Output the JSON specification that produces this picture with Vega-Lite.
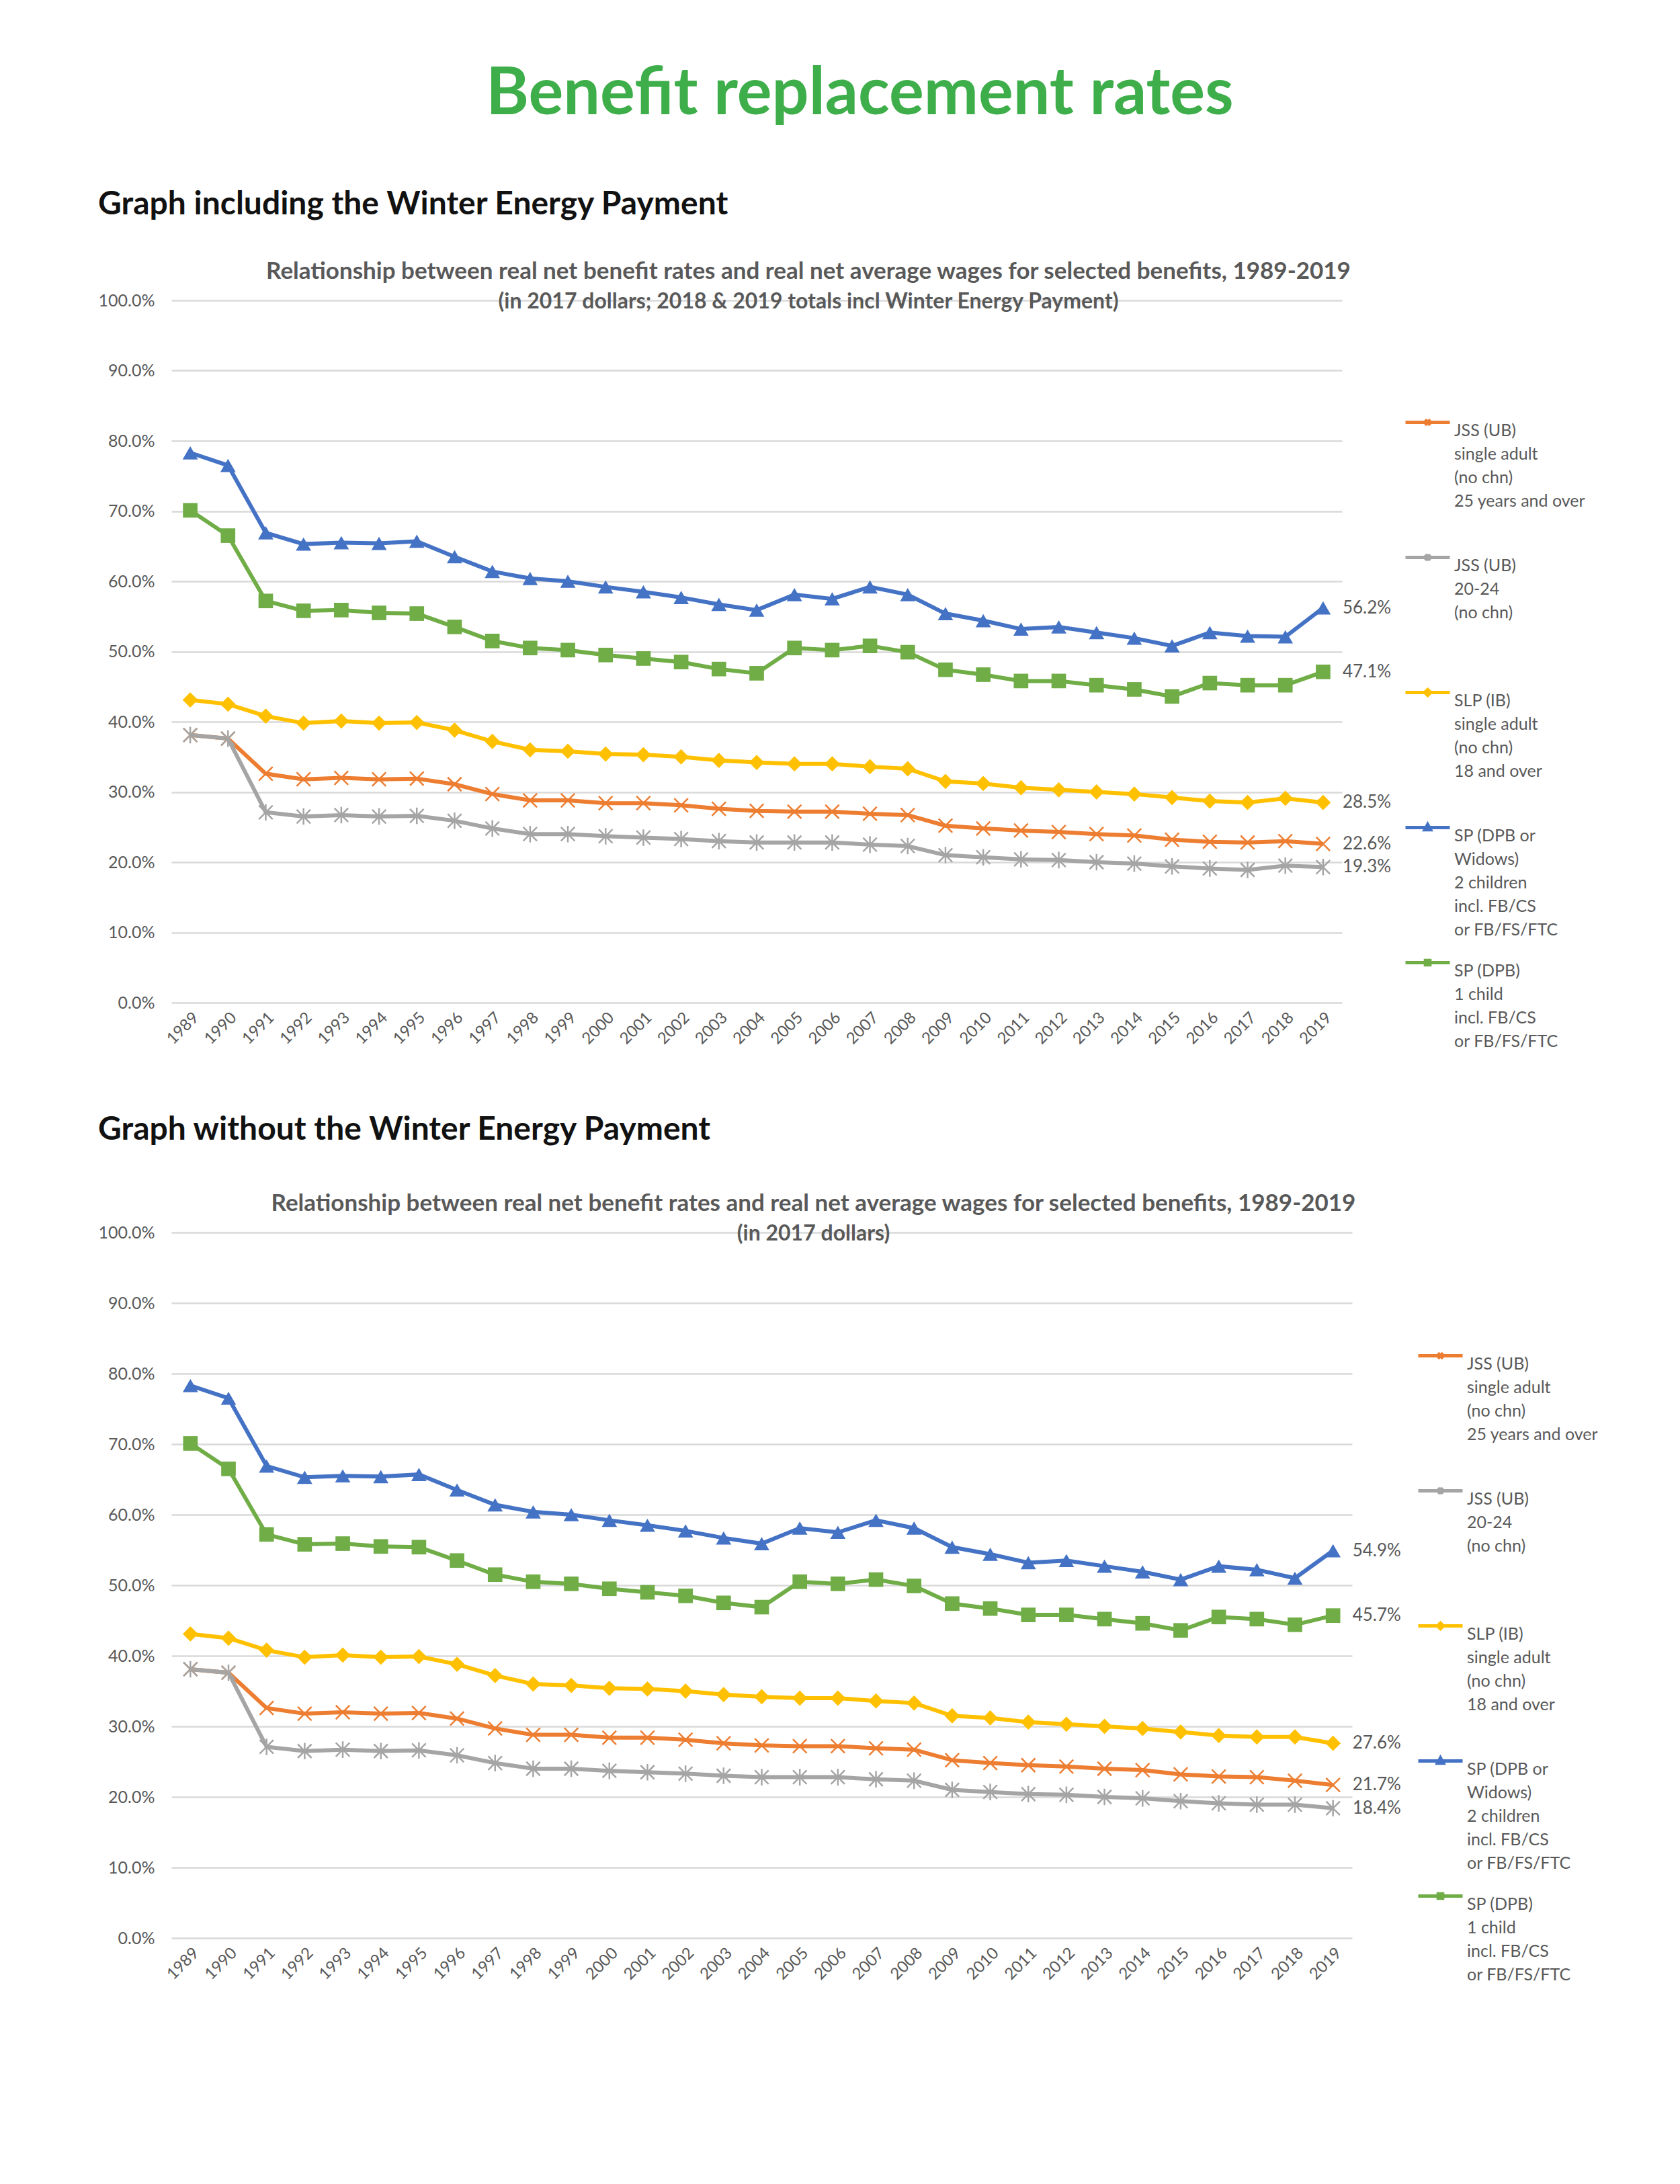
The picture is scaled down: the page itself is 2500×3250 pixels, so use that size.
{
  "$schema": "https://vega.github.io/schema/vega-lite/v6.json",
  "background": "white",
  "padding": {"left": 146, "top": 92, "right": 10, "bottom": 10},
  "title": {
    "text": "Benefit replacement rates",
    "font": "Lato",
    "fontSize": 97,
    "fontWeight": "bold",
    "color": "#3DAE49",
    "anchor": "middle",
    "dx": 17,
    "offset": 91
  },
  "data": {
    "values": [
      {"chart": "with", "series": "JSS25", "year": 1989, "value": 38.1},
      {"chart": "with", "series": "JSS25", "year": 1990, "value": 37.6},
      {"chart": "with", "series": "JSS25", "year": 1991, "value": 32.6},
      {"chart": "with", "series": "JSS25", "year": 1992, "value": 31.8},
      {"chart": "with", "series": "JSS25", "year": 1993, "value": 32.0},
      {"chart": "with", "series": "JSS25", "year": 1994, "value": 31.8},
      {"chart": "with", "series": "JSS25", "year": 1995, "value": 31.9},
      {"chart": "with", "series": "JSS25", "year": 1996, "value": 31.1},
      {"chart": "with", "series": "JSS25", "year": 1997, "value": 29.7},
      {"chart": "with", "series": "JSS25", "year": 1998, "value": 28.8},
      {"chart": "with", "series": "JSS25", "year": 1999, "value": 28.8},
      {"chart": "with", "series": "JSS25", "year": 2000, "value": 28.4},
      {"chart": "with", "series": "JSS25", "year": 2001, "value": 28.4},
      {"chart": "with", "series": "JSS25", "year": 2002, "value": 28.1},
      {"chart": "with", "series": "JSS25", "year": 2003, "value": 27.6},
      {"chart": "with", "series": "JSS25", "year": 2004, "value": 27.3},
      {"chart": "with", "series": "JSS25", "year": 2005, "value": 27.2},
      {"chart": "with", "series": "JSS25", "year": 2006, "value": 27.2},
      {"chart": "with", "series": "JSS25", "year": 2007, "value": 26.9},
      {"chart": "with", "series": "JSS25", "year": 2008, "value": 26.7},
      {"chart": "with", "series": "JSS25", "year": 2009, "value": 25.2},
      {"chart": "with", "series": "JSS25", "year": 2010, "value": 24.8},
      {"chart": "with", "series": "JSS25", "year": 2011, "value": 24.5},
      {"chart": "with", "series": "JSS25", "year": 2012, "value": 24.3},
      {"chart": "with", "series": "JSS25", "year": 2013, "value": 24.0},
      {"chart": "with", "series": "JSS25", "year": 2014, "value": 23.8},
      {"chart": "with", "series": "JSS25", "year": 2015, "value": 23.2},
      {"chart": "with", "series": "JSS25", "year": 2016, "value": 22.9},
      {"chart": "with", "series": "JSS25", "year": 2017, "value": 22.8},
      {"chart": "with", "series": "JSS25", "year": 2018, "value": 23.0},
      {"chart": "with", "series": "JSS25", "year": 2019, "value": 22.6},
      {"chart": "with", "series": "JSS2024", "year": 1989, "value": 38.1},
      {"chart": "with", "series": "JSS2024", "year": 1990, "value": 37.6},
      {"chart": "with", "series": "JSS2024", "year": 1991, "value": 27.1},
      {"chart": "with", "series": "JSS2024", "year": 1992, "value": 26.5},
      {"chart": "with", "series": "JSS2024", "year": 1993, "value": 26.7},
      {"chart": "with", "series": "JSS2024", "year": 1994, "value": 26.5},
      {"chart": "with", "series": "JSS2024", "year": 1995, "value": 26.6},
      {"chart": "with", "series": "JSS2024", "year": 1996, "value": 25.9},
      {"chart": "with", "series": "JSS2024", "year": 1997, "value": 24.8},
      {"chart": "with", "series": "JSS2024", "year": 1998, "value": 24.0},
      {"chart": "with", "series": "JSS2024", "year": 1999, "value": 24.0},
      {"chart": "with", "series": "JSS2024", "year": 2000, "value": 23.7},
      {"chart": "with", "series": "JSS2024", "year": 2001, "value": 23.5},
      {"chart": "with", "series": "JSS2024", "year": 2002, "value": 23.3},
      {"chart": "with", "series": "JSS2024", "year": 2003, "value": 23.0},
      {"chart": "with", "series": "JSS2024", "year": 2004, "value": 22.8},
      {"chart": "with", "series": "JSS2024", "year": 2005, "value": 22.8},
      {"chart": "with", "series": "JSS2024", "year": 2006, "value": 22.8},
      {"chart": "with", "series": "JSS2024", "year": 2007, "value": 22.5},
      {"chart": "with", "series": "JSS2024", "year": 2008, "value": 22.3},
      {"chart": "with", "series": "JSS2024", "year": 2009, "value": 21.0},
      {"chart": "with", "series": "JSS2024", "year": 2010, "value": 20.7},
      {"chart": "with", "series": "JSS2024", "year": 2011, "value": 20.4},
      {"chart": "with", "series": "JSS2024", "year": 2012, "value": 20.3},
      {"chart": "with", "series": "JSS2024", "year": 2013, "value": 20.0},
      {"chart": "with", "series": "JSS2024", "year": 2014, "value": 19.8},
      {"chart": "with", "series": "JSS2024", "year": 2015, "value": 19.4},
      {"chart": "with", "series": "JSS2024", "year": 2016, "value": 19.1},
      {"chart": "with", "series": "JSS2024", "year": 2017, "value": 18.9},
      {"chart": "with", "series": "JSS2024", "year": 2018, "value": 19.5},
      {"chart": "with", "series": "JSS2024", "year": 2019, "value": 19.3},
      {"chart": "with", "series": "SLP", "year": 1989, "value": 43.1},
      {"chart": "with", "series": "SLP", "year": 1990, "value": 42.5},
      {"chart": "with", "series": "SLP", "year": 1991, "value": 40.8},
      {"chart": "with", "series": "SLP", "year": 1992, "value": 39.8},
      {"chart": "with", "series": "SLP", "year": 1993, "value": 40.1},
      {"chart": "with", "series": "SLP", "year": 1994, "value": 39.8},
      {"chart": "with", "series": "SLP", "year": 1995, "value": 39.9},
      {"chart": "with", "series": "SLP", "year": 1996, "value": 38.8},
      {"chart": "with", "series": "SLP", "year": 1997, "value": 37.2},
      {"chart": "with", "series": "SLP", "year": 1998, "value": 36.0},
      {"chart": "with", "series": "SLP", "year": 1999, "value": 35.8},
      {"chart": "with", "series": "SLP", "year": 2000, "value": 35.4},
      {"chart": "with", "series": "SLP", "year": 2001, "value": 35.3},
      {"chart": "with", "series": "SLP", "year": 2002, "value": 35.0},
      {"chart": "with", "series": "SLP", "year": 2003, "value": 34.5},
      {"chart": "with", "series": "SLP", "year": 2004, "value": 34.2},
      {"chart": "with", "series": "SLP", "year": 2005, "value": 34.0},
      {"chart": "with", "series": "SLP", "year": 2006, "value": 34.0},
      {"chart": "with", "series": "SLP", "year": 2007, "value": 33.6},
      {"chart": "with", "series": "SLP", "year": 2008, "value": 33.3},
      {"chart": "with", "series": "SLP", "year": 2009, "value": 31.5},
      {"chart": "with", "series": "SLP", "year": 2010, "value": 31.2},
      {"chart": "with", "series": "SLP", "year": 2011, "value": 30.6},
      {"chart": "with", "series": "SLP", "year": 2012, "value": 30.3},
      {"chart": "with", "series": "SLP", "year": 2013, "value": 30.0},
      {"chart": "with", "series": "SLP", "year": 2014, "value": 29.7},
      {"chart": "with", "series": "SLP", "year": 2015, "value": 29.2},
      {"chart": "with", "series": "SLP", "year": 2016, "value": 28.7},
      {"chart": "with", "series": "SLP", "year": 2017, "value": 28.5},
      {"chart": "with", "series": "SLP", "year": 2018, "value": 29.1},
      {"chart": "with", "series": "SLP", "year": 2019, "value": 28.5},
      {"chart": "with", "series": "SPW", "year": 1989, "value": 78.3},
      {"chart": "with", "series": "SPW", "year": 1990, "value": 76.5},
      {"chart": "with", "series": "SPW", "year": 1991, "value": 66.9},
      {"chart": "with", "series": "SPW", "year": 1992, "value": 65.3},
      {"chart": "with", "series": "SPW", "year": 1993, "value": 65.5},
      {"chart": "with", "series": "SPW", "year": 1994, "value": 65.4},
      {"chart": "with", "series": "SPW", "year": 1995, "value": 65.7},
      {"chart": "with", "series": "SPW", "year": 1996, "value": 63.5},
      {"chart": "with", "series": "SPW", "year": 1997, "value": 61.4},
      {"chart": "with", "series": "SPW", "year": 1998, "value": 60.4},
      {"chart": "with", "series": "SPW", "year": 1999, "value": 60.0},
      {"chart": "with", "series": "SPW", "year": 2000, "value": 59.2},
      {"chart": "with", "series": "SPW", "year": 2001, "value": 58.5},
      {"chart": "with", "series": "SPW", "year": 2002, "value": 57.7},
      {"chart": "with", "series": "SPW", "year": 2003, "value": 56.7},
      {"chart": "with", "series": "SPW", "year": 2004, "value": 55.9},
      {"chart": "with", "series": "SPW", "year": 2005, "value": 58.1},
      {"chart": "with", "series": "SPW", "year": 2006, "value": 57.5},
      {"chart": "with", "series": "SPW", "year": 2007, "value": 59.2},
      {"chart": "with", "series": "SPW", "year": 2008, "value": 58.1},
      {"chart": "with", "series": "SPW", "year": 2009, "value": 55.4},
      {"chart": "with", "series": "SPW", "year": 2010, "value": 54.4},
      {"chart": "with", "series": "SPW", "year": 2011, "value": 53.2},
      {"chart": "with", "series": "SPW", "year": 2012, "value": 53.5},
      {"chart": "with", "series": "SPW", "year": 2013, "value": 52.7},
      {"chart": "with", "series": "SPW", "year": 2014, "value": 51.9},
      {"chart": "with", "series": "SPW", "year": 2015, "value": 50.8},
      {"chart": "with", "series": "SPW", "year": 2016, "value": 52.7},
      {"chart": "with", "series": "SPW", "year": 2017, "value": 52.2},
      {"chart": "with", "series": "SPW", "year": 2018, "value": 52.1},
      {"chart": "with", "series": "SPW", "year": 2019, "value": 56.2},
      {"chart": "with", "series": "SP1", "year": 1989, "value": 70.1},
      {"chart": "with", "series": "SP1", "year": 1990, "value": 66.5},
      {"chart": "with", "series": "SP1", "year": 1991, "value": 57.2},
      {"chart": "with", "series": "SP1", "year": 1992, "value": 55.8},
      {"chart": "with", "series": "SP1", "year": 1993, "value": 55.9},
      {"chart": "with", "series": "SP1", "year": 1994, "value": 55.5},
      {"chart": "with", "series": "SP1", "year": 1995, "value": 55.4},
      {"chart": "with", "series": "SP1", "year": 1996, "value": 53.5},
      {"chart": "with", "series": "SP1", "year": 1997, "value": 51.5},
      {"chart": "with", "series": "SP1", "year": 1998, "value": 50.5},
      {"chart": "with", "series": "SP1", "year": 1999, "value": 50.2},
      {"chart": "with", "series": "SP1", "year": 2000, "value": 49.5},
      {"chart": "with", "series": "SP1", "year": 2001, "value": 49.0},
      {"chart": "with", "series": "SP1", "year": 2002, "value": 48.5},
      {"chart": "with", "series": "SP1", "year": 2003, "value": 47.5},
      {"chart": "with", "series": "SP1", "year": 2004, "value": 46.9},
      {"chart": "with", "series": "SP1", "year": 2005, "value": 50.5},
      {"chart": "with", "series": "SP1", "year": 2006, "value": 50.2},
      {"chart": "with", "series": "SP1", "year": 2007, "value": 50.8},
      {"chart": "with", "series": "SP1", "year": 2008, "value": 49.9},
      {"chart": "with", "series": "SP1", "year": 2009, "value": 47.4},
      {"chart": "with", "series": "SP1", "year": 2010, "value": 46.7},
      {"chart": "with", "series": "SP1", "year": 2011, "value": 45.8},
      {"chart": "with", "series": "SP1", "year": 2012, "value": 45.8},
      {"chart": "with", "series": "SP1", "year": 2013, "value": 45.2},
      {"chart": "with", "series": "SP1", "year": 2014, "value": 44.6},
      {"chart": "with", "series": "SP1", "year": 2015, "value": 43.6},
      {"chart": "with", "series": "SP1", "year": 2016, "value": 45.5},
      {"chart": "with", "series": "SP1", "year": 2017, "value": 45.2},
      {"chart": "with", "series": "SP1", "year": 2018, "value": 45.2},
      {"chart": "with", "series": "SP1", "year": 2019, "value": 47.1},
      {"chart": "without", "series": "JSS25", "year": 1989, "value": 38.1},
      {"chart": "without", "series": "JSS25", "year": 1990, "value": 37.6},
      {"chart": "without", "series": "JSS25", "year": 1991, "value": 32.6},
      {"chart": "without", "series": "JSS25", "year": 1992, "value": 31.8},
      {"chart": "without", "series": "JSS25", "year": 1993, "value": 32.0},
      {"chart": "without", "series": "JSS25", "year": 1994, "value": 31.8},
      {"chart": "without", "series": "JSS25", "year": 1995, "value": 31.9},
      {"chart": "without", "series": "JSS25", "year": 1996, "value": 31.1},
      {"chart": "without", "series": "JSS25", "year": 1997, "value": 29.7},
      {"chart": "without", "series": "JSS25", "year": 1998, "value": 28.8},
      {"chart": "without", "series": "JSS25", "year": 1999, "value": 28.8},
      {"chart": "without", "series": "JSS25", "year": 2000, "value": 28.4},
      {"chart": "without", "series": "JSS25", "year": 2001, "value": 28.4},
      {"chart": "without", "series": "JSS25", "year": 2002, "value": 28.1},
      {"chart": "without", "series": "JSS25", "year": 2003, "value": 27.6},
      {"chart": "without", "series": "JSS25", "year": 2004, "value": 27.3},
      {"chart": "without", "series": "JSS25", "year": 2005, "value": 27.2},
      {"chart": "without", "series": "JSS25", "year": 2006, "value": 27.2},
      {"chart": "without", "series": "JSS25", "year": 2007, "value": 26.9},
      {"chart": "without", "series": "JSS25", "year": 2008, "value": 26.7},
      {"chart": "without", "series": "JSS25", "year": 2009, "value": 25.2},
      {"chart": "without", "series": "JSS25", "year": 2010, "value": 24.8},
      {"chart": "without", "series": "JSS25", "year": 2011, "value": 24.5},
      {"chart": "without", "series": "JSS25", "year": 2012, "value": 24.3},
      {"chart": "without", "series": "JSS25", "year": 2013, "value": 24.0},
      {"chart": "without", "series": "JSS25", "year": 2014, "value": 23.8},
      {"chart": "without", "series": "JSS25", "year": 2015, "value": 23.2},
      {"chart": "without", "series": "JSS25", "year": 2016, "value": 22.9},
      {"chart": "without", "series": "JSS25", "year": 2017, "value": 22.8},
      {"chart": "without", "series": "JSS25", "year": 2018, "value": 22.3},
      {"chart": "without", "series": "JSS25", "year": 2019, "value": 21.7},
      {"chart": "without", "series": "JSS2024", "year": 1989, "value": 38.1},
      {"chart": "without", "series": "JSS2024", "year": 1990, "value": 37.6},
      {"chart": "without", "series": "JSS2024", "year": 1991, "value": 27.1},
      {"chart": "without", "series": "JSS2024", "year": 1992, "value": 26.5},
      {"chart": "without", "series": "JSS2024", "year": 1993, "value": 26.7},
      {"chart": "without", "series": "JSS2024", "year": 1994, "value": 26.5},
      {"chart": "without", "series": "JSS2024", "year": 1995, "value": 26.6},
      {"chart": "without", "series": "JSS2024", "year": 1996, "value": 25.9},
      {"chart": "without", "series": "JSS2024", "year": 1997, "value": 24.8},
      {"chart": "without", "series": "JSS2024", "year": 1998, "value": 24.0},
      {"chart": "without", "series": "JSS2024", "year": 1999, "value": 24.0},
      {"chart": "without", "series": "JSS2024", "year": 2000, "value": 23.7},
      {"chart": "without", "series": "JSS2024", "year": 2001, "value": 23.5},
      {"chart": "without", "series": "JSS2024", "year": 2002, "value": 23.3},
      {"chart": "without", "series": "JSS2024", "year": 2003, "value": 23.0},
      {"chart": "without", "series": "JSS2024", "year": 2004, "value": 22.8},
      {"chart": "without", "series": "JSS2024", "year": 2005, "value": 22.8},
      {"chart": "without", "series": "JSS2024", "year": 2006, "value": 22.8},
      {"chart": "without", "series": "JSS2024", "year": 2007, "value": 22.5},
      {"chart": "without", "series": "JSS2024", "year": 2008, "value": 22.3},
      {"chart": "without", "series": "JSS2024", "year": 2009, "value": 21.0},
      {"chart": "without", "series": "JSS2024", "year": 2010, "value": 20.7},
      {"chart": "without", "series": "JSS2024", "year": 2011, "value": 20.4},
      {"chart": "without", "series": "JSS2024", "year": 2012, "value": 20.3},
      {"chart": "without", "series": "JSS2024", "year": 2013, "value": 20.0},
      {"chart": "without", "series": "JSS2024", "year": 2014, "value": 19.8},
      {"chart": "without", "series": "JSS2024", "year": 2015, "value": 19.4},
      {"chart": "without", "series": "JSS2024", "year": 2016, "value": 19.1},
      {"chart": "without", "series": "JSS2024", "year": 2017, "value": 18.9},
      {"chart": "without", "series": "JSS2024", "year": 2018, "value": 18.9},
      {"chart": "without", "series": "JSS2024", "year": 2019, "value": 18.4},
      {"chart": "without", "series": "SLP", "year": 1989, "value": 43.1},
      {"chart": "without", "series": "SLP", "year": 1990, "value": 42.5},
      {"chart": "without", "series": "SLP", "year": 1991, "value": 40.8},
      {"chart": "without", "series": "SLP", "year": 1992, "value": 39.8},
      {"chart": "without", "series": "SLP", "year": 1993, "value": 40.1},
      {"chart": "without", "series": "SLP", "year": 1994, "value": 39.8},
      {"chart": "without", "series": "SLP", "year": 1995, "value": 39.9},
      {"chart": "without", "series": "SLP", "year": 1996, "value": 38.8},
      {"chart": "without", "series": "SLP", "year": 1997, "value": 37.2},
      {"chart": "without", "series": "SLP", "year": 1998, "value": 36.0},
      {"chart": "without", "series": "SLP", "year": 1999, "value": 35.8},
      {"chart": "without", "series": "SLP", "year": 2000, "value": 35.4},
      {"chart": "without", "series": "SLP", "year": 2001, "value": 35.3},
      {"chart": "without", "series": "SLP", "year": 2002, "value": 35.0},
      {"chart": "without", "series": "SLP", "year": 2003, "value": 34.5},
      {"chart": "without", "series": "SLP", "year": 2004, "value": 34.2},
      {"chart": "without", "series": "SLP", "year": 2005, "value": 34.0},
      {"chart": "without", "series": "SLP", "year": 2006, "value": 34.0},
      {"chart": "without", "series": "SLP", "year": 2007, "value": 33.6},
      {"chart": "without", "series": "SLP", "year": 2008, "value": 33.3},
      {"chart": "without", "series": "SLP", "year": 2009, "value": 31.5},
      {"chart": "without", "series": "SLP", "year": 2010, "value": 31.2},
      {"chart": "without", "series": "SLP", "year": 2011, "value": 30.6},
      {"chart": "without", "series": "SLP", "year": 2012, "value": 30.3},
      {"chart": "without", "series": "SLP", "year": 2013, "value": 30.0},
      {"chart": "without", "series": "SLP", "year": 2014, "value": 29.7},
      {"chart": "without", "series": "SLP", "year": 2015, "value": 29.2},
      {"chart": "without", "series": "SLP", "year": 2016, "value": 28.7},
      {"chart": "without", "series": "SLP", "year": 2017, "value": 28.5},
      {"chart": "without", "series": "SLP", "year": 2018, "value": 28.5},
      {"chart": "without", "series": "SLP", "year": 2019, "value": 27.6},
      {"chart": "without", "series": "SPW", "year": 1989, "value": 78.3},
      {"chart": "without", "series": "SPW", "year": 1990, "value": 76.5},
      {"chart": "without", "series": "SPW", "year": 1991, "value": 66.9},
      {"chart": "without", "series": "SPW", "year": 1992, "value": 65.3},
      {"chart": "without", "series": "SPW", "year": 1993, "value": 65.5},
      {"chart": "without", "series": "SPW", "year": 1994, "value": 65.4},
      {"chart": "without", "series": "SPW", "year": 1995, "value": 65.7},
      {"chart": "without", "series": "SPW", "year": 1996, "value": 63.5},
      {"chart": "without", "series": "SPW", "year": 1997, "value": 61.4},
      {"chart": "without", "series": "SPW", "year": 1998, "value": 60.4},
      {"chart": "without", "series": "SPW", "year": 1999, "value": 60.0},
      {"chart": "without", "series": "SPW", "year": 2000, "value": 59.2},
      {"chart": "without", "series": "SPW", "year": 2001, "value": 58.5},
      {"chart": "without", "series": "SPW", "year": 2002, "value": 57.7},
      {"chart": "without", "series": "SPW", "year": 2003, "value": 56.7},
      {"chart": "without", "series": "SPW", "year": 2004, "value": 55.9},
      {"chart": "without", "series": "SPW", "year": 2005, "value": 58.1},
      {"chart": "without", "series": "SPW", "year": 2006, "value": 57.5},
      {"chart": "without", "series": "SPW", "year": 2007, "value": 59.2},
      {"chart": "without", "series": "SPW", "year": 2008, "value": 58.1},
      {"chart": "without", "series": "SPW", "year": 2009, "value": 55.4},
      {"chart": "without", "series": "SPW", "year": 2010, "value": 54.4},
      {"chart": "without", "series": "SPW", "year": 2011, "value": 53.2},
      {"chart": "without", "series": "SPW", "year": 2012, "value": 53.5},
      {"chart": "without", "series": "SPW", "year": 2013, "value": 52.7},
      {"chart": "without", "series": "SPW", "year": 2014, "value": 51.9},
      {"chart": "without", "series": "SPW", "year": 2015, "value": 50.8},
      {"chart": "without", "series": "SPW", "year": 2016, "value": 52.7},
      {"chart": "without", "series": "SPW", "year": 2017, "value": 52.2},
      {"chart": "without", "series": "SPW", "year": 2018, "value": 51.0},
      {"chart": "without", "series": "SPW", "year": 2019, "value": 54.9},
      {"chart": "without", "series": "SP1", "year": 1989, "value": 70.1},
      {"chart": "without", "series": "SP1", "year": 1990, "value": 66.5},
      {"chart": "without", "series": "SP1", "year": 1991, "value": 57.2},
      {"chart": "without", "series": "SP1", "year": 1992, "value": 55.8},
      {"chart": "without", "series": "SP1", "year": 1993, "value": 55.9},
      {"chart": "without", "series": "SP1", "year": 1994, "value": 55.5},
      {"chart": "without", "series": "SP1", "year": 1995, "value": 55.4},
      {"chart": "without", "series": "SP1", "year": 1996, "value": 53.5},
      {"chart": "without", "series": "SP1", "year": 1997, "value": 51.5},
      {"chart": "without", "series": "SP1", "year": 1998, "value": 50.5},
      {"chart": "without", "series": "SP1", "year": 1999, "value": 50.2},
      {"chart": "without", "series": "SP1", "year": 2000, "value": 49.5},
      {"chart": "without", "series": "SP1", "year": 2001, "value": 49.0},
      {"chart": "without", "series": "SP1", "year": 2002, "value": 48.5},
      {"chart": "without", "series": "SP1", "year": 2003, "value": 47.5},
      {"chart": "without", "series": "SP1", "year": 2004, "value": 46.9},
      {"chart": "without", "series": "SP1", "year": 2005, "value": 50.5},
      {"chart": "without", "series": "SP1", "year": 2006, "value": 50.2},
      {"chart": "without", "series": "SP1", "year": 2007, "value": 50.8},
      {"chart": "without", "series": "SP1", "year": 2008, "value": 49.9},
      {"chart": "without", "series": "SP1", "year": 2009, "value": 47.4},
      {"chart": "without", "series": "SP1", "year": 2010, "value": 46.7},
      {"chart": "without", "series": "SP1", "year": 2011, "value": 45.8},
      {"chart": "without", "series": "SP1", "year": 2012, "value": 45.8},
      {"chart": "without", "series": "SP1", "year": 2013, "value": 45.2},
      {"chart": "without", "series": "SP1", "year": 2014, "value": 44.6},
      {"chart": "without", "series": "SP1", "year": 2015, "value": 43.6},
      {"chart": "without", "series": "SP1", "year": 2016, "value": 45.5},
      {"chart": "without", "series": "SP1", "year": 2017, "value": 45.2},
      {"chart": "without", "series": "SP1", "year": 2018, "value": 44.4},
      {"chart": "without", "series": "SP1", "year": 2019, "value": 45.7}
    ]
  },
  "spacing": 95,
  "resolve": {
    "scale": {"color": "independent"},
    "legend": {"color": "independent"}
  },
  "vconcat": [
    {
      "title": {
        "text": "Graph including the Winter Energy Payment",
        "anchor": "start",
        "font": "Lato",
        "fontSize": 48,
        "fontWeight": "bold",
        "color": "#111111",
        "offset": 58
      },
      "vconcat": [
        {
          "width": 1742,
          "height": 1045,
          "title": {
            "text": "Relationship between real net benefit rates and real net average wages for selected benefits, 1989-2019",
            "subtitle": "(in 2017 dollars; 2018 & 2019 totals incl Winter Energy Payment)",
            "dx": 77
          },
          "transform": [{"filter": "datum.chart == 'with'"}],
          "encoding": {
            "x": {"field": "year", "type": "ordinal"},
            "y": {
              "field": "value",
              "type": "quantitative",
              "scale": {"domain": [0, 100]},
              "axis": {"values": [0, 10, 20, 30, 40, 50, 60, 70, 80, 90, 100], "labelExpr": "format(datum.value, '.1f') + '%'"}
            }
          },
          "layer": [
            {
              "mark": {"type": "line", "strokeWidth": 6},
              "encoding": {
                "color": {
                  "field": "series",
                  "type": "nominal",
                  "scale": {
                    "domain": ["JSS25", "JSS2024", "SLP", "SPW", "SP1"],
                    "range": ["#ED7D31", "#A5A5A5", "#FFC000", "#4472C4", "#70AD47"]
                  },
                  "legend": {
                    "legendX": 1834,
                    "legendY": 146,
                    "symbolType": "stroke",
                    "labelExpr": "datum.label == 'JSS25' ? ['JSS (UB)', 'single adult', '(no chn)', '25 years and over'] : datum.label == 'JSS2024' ? ['JSS (UB)', '20-24', '(no chn)'] : datum.label == 'SLP' ? ['SLP (IB)', 'single adult', '(no chn)', '18 and over'] : datum.label == 'SPW' ? ['SP (DPB or', 'Widows)', '2 children', 'incl. FB/CS', 'or FB/FS/FTC'] : ['SP (DPB)', '1 child', 'incl. FB/CS', 'or FB/FS/FTC']",
                    "encoding": {
                      "labels": {"lineHeight": {"value": 35}},
                      "symbols": {"shape": {"value": {"expr": "datum.value == 'JSS25' ? 'M-1,0L1,0M-0.12,-0.12L0.12,0.12M-0.12,0.12L0.12,-0.12' : datum.value == 'JSS2024' ? 'M-1,0L1,0M-0.12,-0.12L0.12,0.12M-0.12,0.12L0.12,-0.12M0,-0.15L0,0.15' : datum.value == 'SLP' ? 'M-1,0L1,0M0,-0.13L0.13,0L0,0.13L-0.13,0Z' : datum.value == 'SPW' ? 'M-1,0L1,0M0,-0.14L0.13,0.1L-0.13,0.1Z' : 'M-1,0L1,0M-0.1,-0.1L0.1,-0.1L0.1,0.1L-0.1,0.1Z'"}}}
                    }
                  }
                }
              }
            },
            {
              "transform": [{"filter": "datum.series == 'JSS25'"}],
              "mark": {"type": "point", "shape": "M-1,-1L1,1M-1,1L1,-1", "filled": false, "color": "#ED7D31", "size": 420, "strokeWidth": 2.5, "opacity": 1}
            },
            {
              "transform": [{"filter": "datum.series == 'JSS2024'"}],
              "mark": {"type": "point", "shape": "M-1,-1L1,1M-1,1L1,-1M0,-1.2L0,1.2", "filled": false, "color": "#A5A5A5", "size": 420, "strokeWidth": 2.5, "opacity": 1}
            },
            {
              "transform": [{"filter": "datum.series == 'SLP'"}],
              "mark": {"type": "point", "shape": "diamond", "filled": true, "color": "#FFC000", "size": 520, "opacity": 1}
            },
            {
              "transform": [{"filter": "datum.series == 'SPW'"}],
              "mark": {"type": "point", "shape": "triangle-up", "filled": true, "color": "#4472C4", "size": 520, "opacity": 1}
            },
            {
              "transform": [{"filter": "datum.series == 'SP1'"}],
              "mark": {"type": "point", "shape": "square", "filled": true, "color": "#70AD47", "size": 470, "opacity": 1}
            },
            {
              "transform": [
                {"filter": "datum.year == 2019"},
                {"calculate": "format(datum.value, '.1f') + '%'", "as": "label"}
              ],
              "mark": {"type": "text", "align": "left", "baseline": "middle", "dx": 29, "fontSize": 26, "font": "Lato", "color": "#595959"},
              "encoding": {"text": {"field": "label"}}
            }
          ]
        }
      ]
    },
    {
      "title": {
        "text": "Graph without the Winter Energy Payment",
        "anchor": "start",
        "font": "Lato",
        "fontSize": 48,
        "fontWeight": "bold",
        "color": "#111111",
        "offset": 68
      },
      "vconcat": [
        {
          "width": 1757,
          "height": 1050,
          "title": {
            "text": "Relationship between real net benefit rates and real net average wages for selected benefits, 1989-2019",
            "subtitle": "(in 2017 dollars)",
            "dx": 77
          },
          "transform": [{"filter": "datum.chart == 'without'"}],
          "encoding": {
            "x": {"field": "year", "type": "ordinal"},
            "y": {
              "field": "value",
              "type": "quantitative",
              "scale": {"domain": [0, 100]},
              "axis": {"values": [0, 10, 20, 30, 40, 50, 60, 70, 80, 90, 100], "labelExpr": "format(datum.value, '.1f') + '%'"}
            }
          },
          "layer": [
            {
              "mark": {"type": "line", "strokeWidth": 6},
              "encoding": {
                "color": {
                  "field": "series",
                  "type": "nominal",
                  "scale": {
                    "domain": ["JSS25", "JSS2024", "SLP", "SPW", "SP1"],
                    "range": ["#ED7D31", "#A5A5A5", "#FFC000", "#4472C4", "#70AD47"]
                  },
                  "legend": {
                    "legendX": 1853,
                    "legendY": 148,
                    "symbolType": "stroke",
                    "labelExpr": "datum.label == 'JSS25' ? ['JSS (UB)', 'single adult', '(no chn)', '25 years and over'] : datum.label == 'JSS2024' ? ['JSS (UB)', '20-24', '(no chn)'] : datum.label == 'SLP' ? ['SLP (IB)', 'single adult', '(no chn)', '18 and over'] : datum.label == 'SPW' ? ['SP (DPB or', 'Widows)', '2 children', 'incl. FB/CS', 'or FB/FS/FTC'] : ['SP (DPB)', '1 child', 'incl. FB/CS', 'or FB/FS/FTC']",
                    "encoding": {
                      "labels": {"lineHeight": {"value": 35}},
                      "symbols": {"shape": {"value": {"expr": "datum.value == 'JSS25' ? 'M-1,0L1,0M-0.12,-0.12L0.12,0.12M-0.12,0.12L0.12,-0.12' : datum.value == 'JSS2024' ? 'M-1,0L1,0M-0.12,-0.12L0.12,0.12M-0.12,0.12L0.12,-0.12M0,-0.15L0,0.15' : datum.value == 'SLP' ? 'M-1,0L1,0M0,-0.13L0.13,0L0,0.13L-0.13,0Z' : datum.value == 'SPW' ? 'M-1,0L1,0M0,-0.14L0.13,0.1L-0.13,0.1Z' : 'M-1,0L1,0M-0.1,-0.1L0.1,-0.1L0.1,0.1L-0.1,0.1Z'"}}}
                    }
                  }
                }
              }
            },
            {
              "transform": [{"filter": "datum.series == 'JSS25'"}],
              "mark": {"type": "point", "shape": "M-1,-1L1,1M-1,1L1,-1", "filled": false, "color": "#ED7D31", "size": 420, "strokeWidth": 2.5, "opacity": 1}
            },
            {
              "transform": [{"filter": "datum.series == 'JSS2024'"}],
              "mark": {"type": "point", "shape": "M-1,-1L1,1M-1,1L1,-1M0,-1.2L0,1.2", "filled": false, "color": "#A5A5A5", "size": 420, "strokeWidth": 2.5, "opacity": 1}
            },
            {
              "transform": [{"filter": "datum.series == 'SLP'"}],
              "mark": {"type": "point", "shape": "diamond", "filled": true, "color": "#FFC000", "size": 520, "opacity": 1}
            },
            {
              "transform": [{"filter": "datum.series == 'SPW'"}],
              "mark": {"type": "point", "shape": "triangle-up", "filled": true, "color": "#4472C4", "size": 520, "opacity": 1}
            },
            {
              "transform": [{"filter": "datum.series == 'SP1'"}],
              "mark": {"type": "point", "shape": "square", "filled": true, "color": "#70AD47", "size": 470, "opacity": 1}
            },
            {
              "transform": [
                {"filter": "datum.year == 2019"},
                {"calculate": "format(datum.value, '.1f') + '%'", "as": "label"}
              ],
              "mark": {"type": "text", "align": "left", "baseline": "middle", "dx": 29, "fontSize": 26, "font": "Lato", "color": "#595959"},
              "encoding": {"text": {"field": "label"}}
            }
          ]
        }
      ]
    }
  ],
  "config": {
    "font": "Lato",
    "view": {"stroke": null},
    "title": {
      "font": "Lato",
      "fontSize": 35,
      "fontWeight": "bold",
      "color": "#595959",
      "anchor": "middle",
      "offset": -30,
      "subtitleFont": "Lato",
      "subtitleFontSize": 32,
      "subtitleFontWeight": "bold",
      "subtitleColor": "#595959",
      "subtitlePadding": 12
    },
    "axis": {"title": null, "labelFont": "Lato", "labelFontSize": 25, "labelColor": "#595959"},
    "axisY": {"gridColor": "#D9D9D9", "gridWidth": 2.5, "domain": false, "ticks": false, "labelPadding": 25},
    "axisX": {"grid": false, "domain": false, "ticks": false, "labelAngle": -45, "labelPadding": 10, "labelFontSize": 24},
    "legend": {
      "orient": "none",
      "title": null,
      "padding": 0,
      "symbolSize": 4356,
      "symbolStrokeWidth": 5,
      "labelFont": "Lato",
      "labelFontSize": 25,
      "labelColor": "#595959",
      "labelLimit": 400,
      "labelOffset": 4,
      "labelBaseline": "top",
      "gridAlign": "all",
      "rowPadding": -19
    }
  }
}
